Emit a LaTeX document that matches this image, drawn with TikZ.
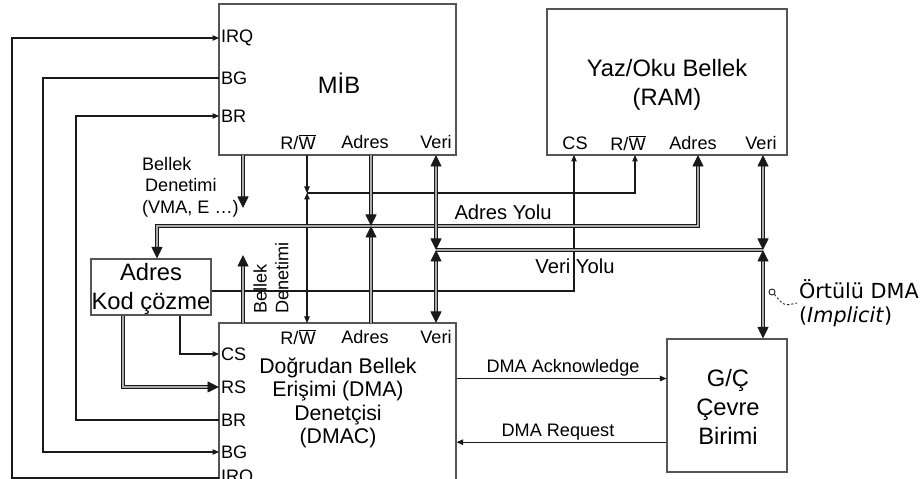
\documentclass[tikz,border=0pt]{standalone}
\usepackage{fontspec}
\setmainfont{Liberation Sans}
\newfontfamily\notefont{DejaVu Sans}
\usetikzlibrary{arrows.meta,positioning,fit}
\definecolor{ink}{RGB}{25,25,25}
\definecolor{frame}{RGB}{85,85,85}
\definecolor{pipe}{RGB}{170,170,170}
\newcommand\rwbar{R/$\overline{\hbox{W}}$}
\tikzset{
  >={Triangle[length=1.3mm,width=1.1mm]},
  unit/.style={draw=frame,line width=0.6pt,inner sep=0pt},
  title/.style={align=center,inner sep=1pt,font=\fontsize{13.5}{16.5}\selectfont},
  port/.style={inner sep=1pt,font=\fontsize{10.3}{12.3}\selectfont},
  busname/.style={inner sep=1pt,font=\fontsize{11.5}{13.8}\selectfont},
  sig/.style={draw=ink,line width=0.6pt},
  bus/.style={draw=ink,line width=0.5pt,double=pipe,double distance=1.3pt,
    >={Triangle[length=2.3mm,width=2.2mm]}},
}
\begin{document}
\begin{tikzpicture}[x=0.2mm,y=-0.2mm]
\useasboundingbox (0,0) rectangle (923,479);
\node[unit,fit={(219,4) (456,155)}] (mib) {};
\node[unit,fit={(547,9) (787,155)}] (ram) {};
\node[unit,fit={(91,259) (211,315)}] (dec) {};
\node[unit,fit={(219,323) (456,485)}] (dmac) {};
\node[unit,fit={(667,339) (787,472)}] (io) {};
\node[title] (mibName) at (339,83) {MİB};
\node[title] (ramName) at (667,85) {Yaz/Oku Bellek\\(RAM)};
\node[title] (decName) at (151,289) {Adres\\Kod çözme};
\node[title,font=\fontsize{12.1}{13.3}\selectfont] (dmacName) at (338,403)
  {Doğrudan Bellek\\Erişimi (DMA)\\Denetçisi\\(DMAC)};
\node[title] (ioName) at (728,407) {G/Ç\\Çevre\\Birimi};

% port names
\foreach \p/\y in {IRQ/38,BG/78,BR/116}
  \node[port,anchor=west] (mib\p) at (219,\y) {\p};
\foreach \p/\y in {CS/354,RS/387,BR/420,BG/452,IRQ/478}
  \node[port,anchor=west] (dmac\p) at (219,\y) {\p};
\foreach \n/\x/\t in {RW/298/\rwbar,Ad/365/Adres,Da/436/Veri} {
  \node[port] (mib\n) at (\x,142) {\t};
  \node[port] (dmac\n) at (\x,337) {\t};
}
\foreach \n/\x/\t in {CS/575/CS,RW/628/\rwbar,Ad/693/Adres,Da/761/Veri}
  \node[port] (ram\n) at (\x,143) {\t};

\foreach \n/\x in {Mem/243,RW/307,Ad/371,Da/436} {
  \coordinate (m\n) at (\x,155);
  \coordinate (d\n) at (\x,323);
}
\foreach \n/\x in {CS/574,RW/635,Ad/698,Da/763} \coordinate (r\n) at (\x,155);
\coordinate (rwY) at (0,193);
\coordinate (adY) at (0,226);
\coordinate (daY) at (0,250);

\draw[sig,->] (dmacIRQ.west) -- ++(-207,0) |- (mibIRQ.west);
\draw[sig,->] (mibBG.west) -- ++(-176,0) |- (dmacBG.west);
\draw[sig,->] (dmacBR.west) -- ++(-143,0) |- (mibBR.west);
\draw[sig,->] (dec.south -| 180,0) |- (dmacCS.west);
\draw[bus,->] (dec.south -| 123,0) |- (dmacRS.west);
\draw[sig,->] (dec.east |- 0,291) -| (rCS);

\draw[bus,->] (mMem) -- ++(0,53);
\node[port,anchor=west,align=left] (memM) at (140,187) {Bellek\\\,Denetimi\\(VMA, E …)};
\draw[bus,->] (dMem) -- ++(0,-68);
\node[port,rotate=90,align=left] (memD) at (271,278) {Bellek\\Denetimi};

\draw[sig,->] (mRW) -- (mRW |- rwY);
\draw[sig,<->] (dRW) -- (dRW |- rwY);
\draw[sig,->] (dRW |- rwY) -| (rRW);

\draw[bus,<->] (dec.north -| 157,0) |- (rAd |- adY) -- (rAd);
\draw[bus,->] (mAd) -- (mAd |- adY);
\draw[bus,->] (dAd) -- (dAd |- adY);
\node[busname] (adName) at (503,212) {Adres Yolu};

\draw[bus] (dDa |- daY) -- (rDa |- daY);
\foreach \a in {mDa,dDa,rDa} \draw[bus,<->] (\a) -- (\a |- daY);
\draw[bus,<->] (io.north -| rDa) -- (rDa |- daY);
\node[busname] (daName) at (575,266) {Veri Yolu};

\node[port] (ack) at (563,368) {DMA Acknowledge};
\node[port] (req) at (558,432) {DMA Request};
\draw[sig,->] (dmac.east |- ack.south) -- (io.west |- ack.south);
\draw[sig,->] (io.west |- req.south) -- (dmac.east |- req.south);

\node[port,font=\notefont\fontsize{11.8}{14}\selectfont,anchor=west,align=left] (impl)
  at (797,303) {Örtülü DMA\\(\textit{Implicit})};
\node[circle,draw=ink,line width=0.5pt,inner sep=0pt,minimum size=1.2mm] (spot) at (772,292) {};
\draw[ink,line width=0.5pt,dash pattern=on 1.2pt off 1.2pt]
  (spot.south east) .. controls (784,306) .. (impl.west);
\end{tikzpicture}
\end{document}
